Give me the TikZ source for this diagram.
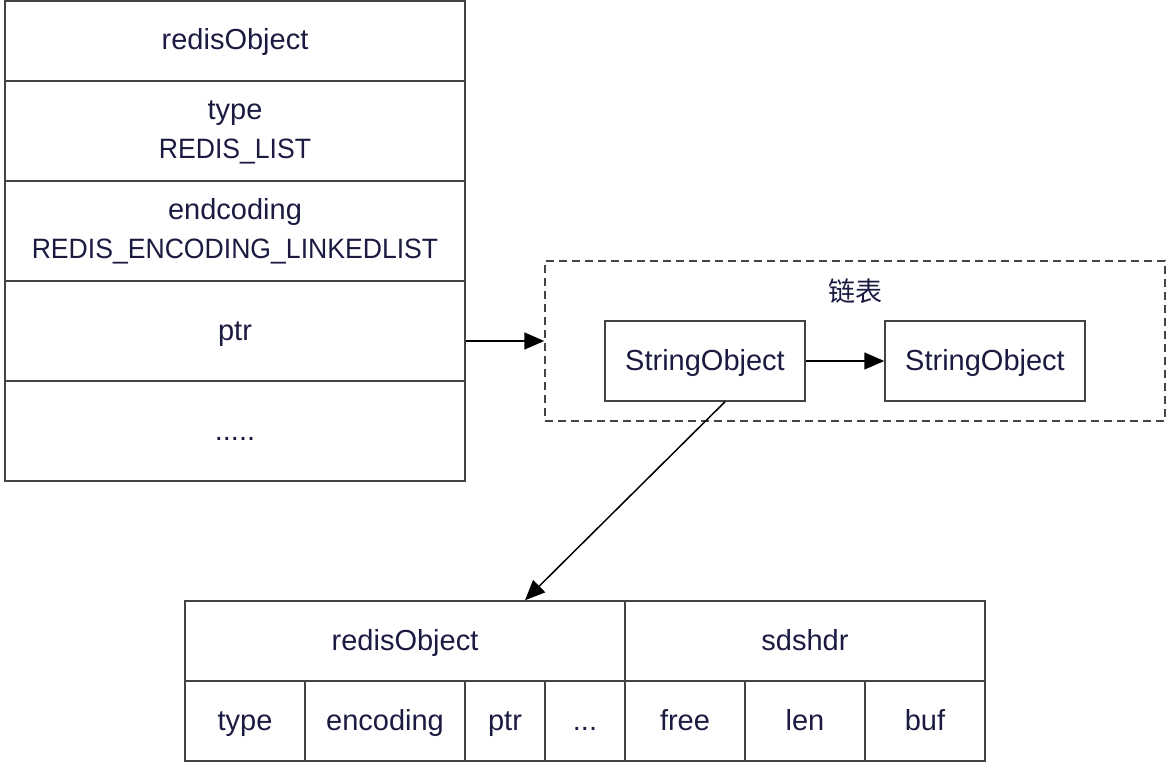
\documentclass[tikz,border=0pt]{standalone}
\usepackage{fontspec}
\setmainfont{Liberation Sans}
\newfontfamily\cjk{Noto Sans CJK SC}
\newfontfamily\capsfont[FakeStretch=0.95]{Liberation Sans}
\usetikzlibrary{arrows.meta,calc}
\definecolor{txt}{HTML}{1B1B42}
\definecolor{ln}{HTML}{444444}
\newcommand{\twolines}[2]{\begin{tabular}{@{}c@{}}#1\\{\capsfont\fontsize{28}{39}\selectfont #2}\end{tabular}}
\tikzset{
  box/.style={draw=ln, line width=1.5pt, rectangle, inner sep=0pt, text=txt,
    font=\fontsize{29}{39}\selectfont},
  cell/.style={box, text height=22pt, text depth=4pt},
  link/.style={line width=1.5pt, black, -{Triangle[length=20pt,width=17pt]}},
}
\begin{document}
\begin{tikzpicture}[x=1pt,y=-1pt]
\useasboundingbox (0,0) rectangle (1170,770);
% left stack
\node[cell, minimum width=460pt, minimum height=80pt] (ro) at (235,41) {redisObject};
\node[box, minimum width=460pt, minimum height=100pt] (ty) at (235,131) {\twolines{type}{REDIS\_LIST}};
\node[box, minimum width=460pt, minimum height=100pt] (en) at (235,231) {\twolines{endcoding}{REDIS\_ENCODING\_LINKEDLIST}};
\node[cell, minimum width=460pt, minimum height=100pt] (ptr) at (235,331) {ptr};
\node[cell, minimum width=460pt, minimum height=100pt] (dots) at (235,431) {.....};
% list container
\node[box, dashed, dash pattern=on 8pt off 5pt, minimum width=620pt, minimum height=160pt] (list) at (855,341) {};
\node[text=txt, font=\cjk\fontsize{27}{30}\selectfont] (title) at (855,291) {链表};
\node[cell, minimum width=200pt, minimum height=80pt] (so1) at (705,361) {StringObject};
\node[cell, minimum width=200pt, minimum height=80pt] (so2) at (985,361) {StringObject};
% bottom table
\node[cell, minimum width=440pt, minimum height=80pt] (bro) at (405,641) {redisObject};
\node[cell, minimum width=360pt, minimum height=80pt] (sds) at (805,641) {sdshdr};
\node[cell, minimum width=120pt, minimum height=80pt] (btype) at (245,721) {type};
\node[cell, minimum width=160pt, minimum height=80pt] (benc) at (385,721) {encoding};
\node[cell, minimum width=80pt, minimum height=80pt] (bptr) at (505,721) {ptr};
\node[cell, minimum width=80pt, minimum height=80pt] (bdots) at (585,721) {...};
\node[cell, minimum width=120pt, minimum height=80pt] (bfree) at (685,721) {free};
\node[cell, minimum width=120pt, minimum height=80pt] (blen) at (805,721) {len};
\node[cell, minimum width=120pt, minimum height=80pt] (bbuf) at (925,721) {buf};
% connectors
\draw[link] (ptr.east |- list.west) -- (list.west);
\draw[link] (so1.east) -- (so2.west);
\coordinate (s1) at ($(so1.south)+(20,0)$);
\coordinate (t1) at ($(bro.north)+(120,0)$);
\draw[link] (s1) -- (t1);
\end{tikzpicture}
\end{document}
